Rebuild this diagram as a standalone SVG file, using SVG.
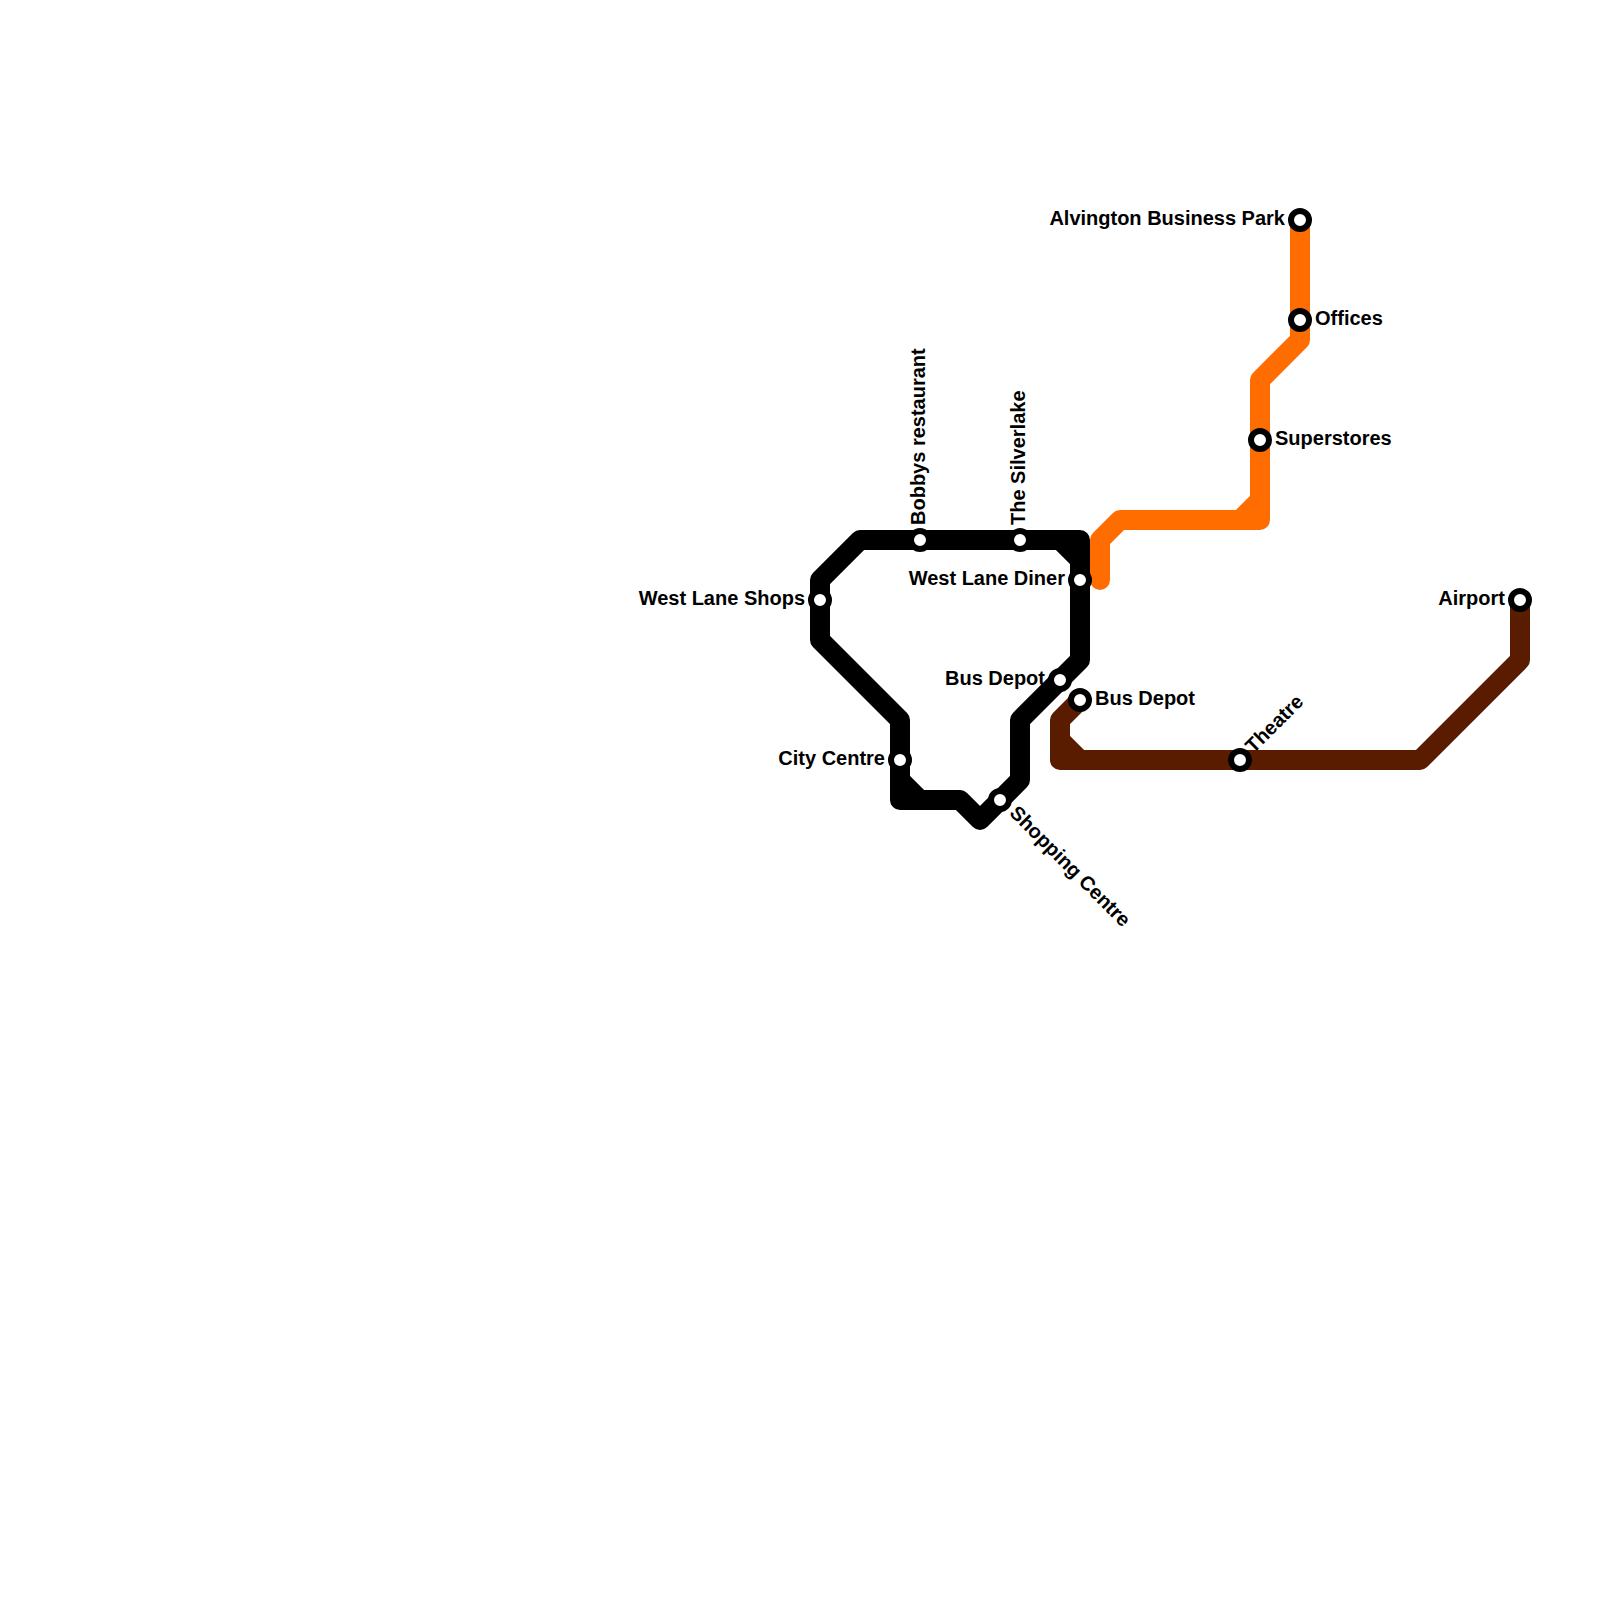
<svg xmlns="http://www.w3.org/2000/svg" width="1600" height="1600" viewBox="0 0 1600 1600">
<style>
.l{fill:none;stroke-width:20;stroke-linecap:round;stroke-linejoin:round}
.s{fill:#fff;stroke:#000;stroke-width:6}
text{font-family:"Liberation Sans",Arial,sans-serif;font-weight:700;font-size:20px;fill:#000}
.e{text-anchor:end}
</style>
<rect width="1600" height="1600" fill="#fff"/>
<g id="connectors">
<path class="l" stroke="#ff6c00" d="M1100 580V540L1120 520H1260V380L1300 340V220M1240 520L1260 500"/>
<path class="l" stroke="#5a1c00" d="M1080 700L1060 720V760H1420L1520 660V600M1060 740L1080 760"/>
<path class="l" stroke="#000" d="M1080 580V540H860L820 580V640L900 720V800H960L980 820L1020 780V720L1080 660V580M1060 540L1080 560M900 780L920 800"/>
</g>
<g id="n-bobbys"><circle class="s" cx="920" cy="540" r="9"/><text transform="translate(924.5 525) rotate(-90)">Bobbys restaurant</text></g>
<g id="n-silverlake"><circle class="s" cx="1020" cy="540" r="9"/><text transform="translate(1024.5 525) rotate(-90)">The Silverlake</text></g>
<g id="n-diner"><circle class="s" cx="1080" cy="580" r="9"/><text class="e" x="1065" y="585">West Lane Diner</text></g>
<g id="n-shops"><circle class="s" cx="820" cy="600" r="9"/><text class="e" x="805" y="605">West Lane Shops</text></g>
<g id="n-depot1"><circle class="s" cx="1060" cy="680" r="9"/><text class="e" x="1045" y="685">Bus Depot</text></g>
<g id="n-depot2"><circle class="s" cx="1080" cy="700" r="9"/><text x="1095" y="705">Bus Depot</text></g>
<g id="n-city"><circle class="s" cx="900" cy="760" r="9"/><text class="e" x="885" y="765">City Centre</text></g>
<g id="n-shopping"><circle class="s" cx="1000" cy="800" r="9"/><text transform="translate(1008.5 814) rotate(45)">Shopping Centre</text></g>
<g id="n-theatre"><circle class="s" cx="1240" cy="760" r="9"/><text transform="translate(1253.5 754) rotate(-45)">Theatre</text></g>
<g id="n-airport"><circle class="s" cx="1520" cy="600" r="9"/><text class="e" x="1505" y="605">Airport</text></g>
<g id="n-alvington"><circle class="s" cx="1300" cy="220" r="9"/><text class="e" x="1285" y="225">Alvington Business Park</text></g>
<g id="n-offices"><circle class="s" cx="1300" cy="320" r="9"/><text x="1315" y="325">Offices</text></g>
<g id="n-superstores"><circle class="s" cx="1260" cy="440" r="9"/><text x="1275" y="445">Superstores</text></g>
</svg>
